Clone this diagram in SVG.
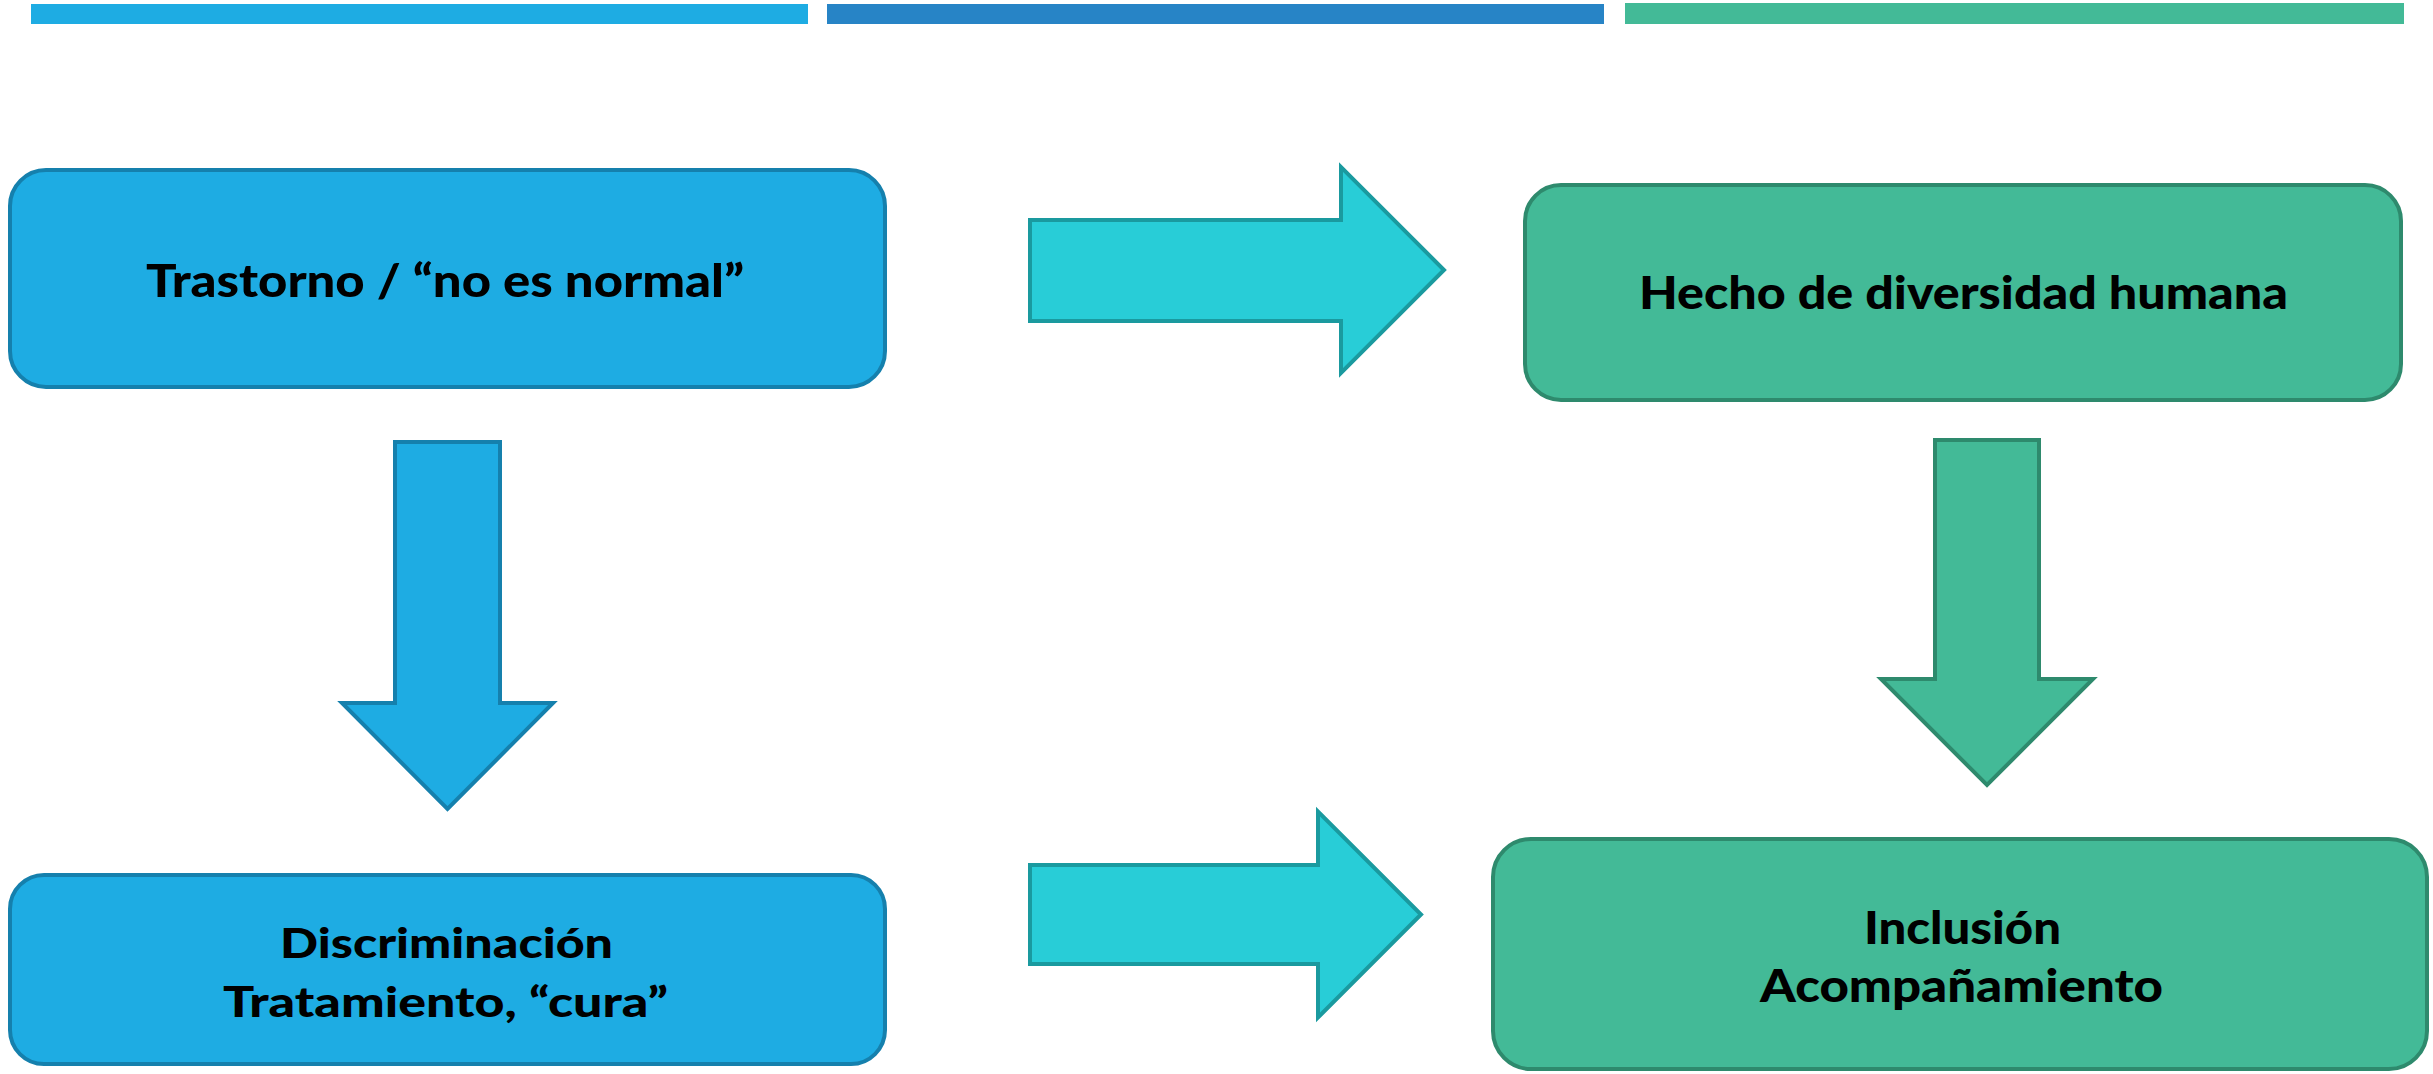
<svg xmlns="http://www.w3.org/2000/svg" width="2433" height="1074" viewBox="0 0 2433 1074">
<style>
.blue{fill:#1EACE3;stroke:#1580AD;stroke-width:4}
.green{fill:#43BA97;stroke:#2E8A6D;stroke-width:4}
.cyan{fill:#28CDD7;stroke:#1A9A9F;stroke-width:4;stroke-linejoin:miter}
.lbl{font-family:Lato,"Liberation Sans",sans-serif;font-weight:900;fill:#000}
</style>
<rect width="2433" height="1074" fill="#ffffff"/>
<g id="header">
<rect x="31" y="4" width="777" height="20" fill="#1EACE3"/>
<rect x="827" y="4" width="777" height="20" fill="#2784C6"/>
<rect x="1625" y="3" width="779" height="21" fill="#43BA97"/>
</g>
<g id="connectors">
<polygon class="cyan" points="1030,220 1341,220 1341,167 1444,270 1341,373 1341,321 1030,321"/>
<polygon class="cyan" points="1030,865 1318,865 1318,811.5 1421,914.5 1318,1017.5 1318,964 1030,964"/>
<polygon class="blue" points="395,442 500,442 500,703 553,703 447.5,809 342,703 395,703"/>
<polygon class="green" points="1935,440 2039,440 2039,679 2093,679 1987,785 1881,679 1935,679"/>
</g>
<g id="node-trastorno">
<rect class="blue" x="10" y="170" width="875" height="217" rx="36" ry="36"/>
<text class="lbl" x="146" y="297" font-size="46" textLength="598" lengthAdjust="spacingAndGlyphs">Trastorno / “no es normal”</text>
</g>
<g id="node-hecho">
<rect class="green" x="1525" y="185" width="876" height="215" rx="36" ry="36"/>
<text class="lbl" x="1639" y="309" font-size="45" textLength="649" lengthAdjust="spacingAndGlyphs">Hecho de diversidad humana</text>
</g>
<g id="node-discriminacion">
<rect class="blue" x="10" y="875" width="875" height="189" rx="34" ry="34"/>
<text class="lbl" x="280" y="958" font-size="41" textLength="333" lengthAdjust="spacingAndGlyphs">Discriminación</text>
<text class="lbl" x="223" y="1017" font-size="42" textLength="445" lengthAdjust="spacingAndGlyphs">Tratamiento, “cura”</text>
</g>
<g id="node-inclusion">
<rect class="green" x="1493" y="839" width="934" height="230" rx="38" ry="38"/>
<text class="lbl" x="1864" y="944" font-size="45" textLength="197" lengthAdjust="spacingAndGlyphs">Inclusión</text>
<text class="lbl" x="1760" y="1002" font-size="45" textLength="403" lengthAdjust="spacingAndGlyphs">Acompañamiento</text>
</g>
</svg>
